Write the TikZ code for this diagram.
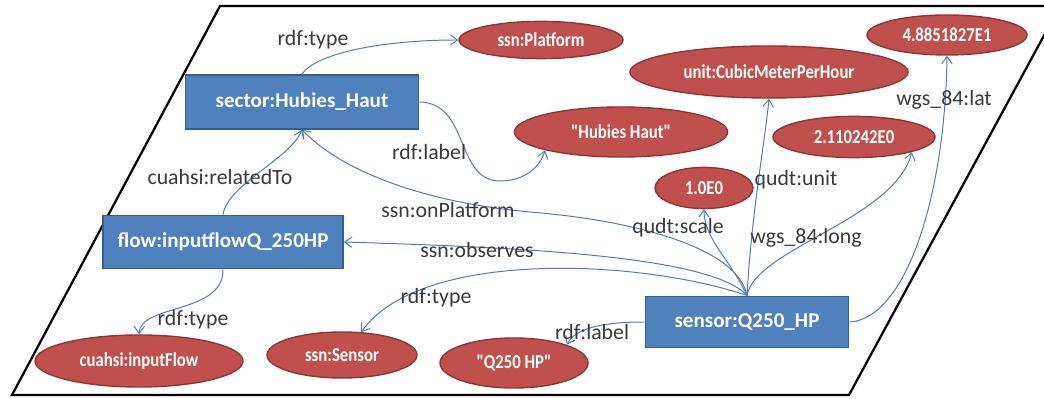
\documentclass[tikz,border=0pt]{standalone}
\usepackage{fontspec}
\setmainfont{Carlito}
\newfontfamily\litfont[FakeStretch=0.85]{Carlito}
\usetikzlibrary{shapes.geometric,arrows.meta}
\definecolor{resblue}{HTML}{4F81BD}
\definecolor{resline}{HTML}{385D8A}
\definecolor{litred}{HTML}{C0504D}
\definecolor{litline}{HTML}{8C3836}
\definecolor{edgeblue}{HTML}{4A7EBB}
\definecolor{notegray}{HTML}{3A3A3A}

\begin{document}
\begin{tikzpicture}[x=0.025cm, y=0.025cm,
  res/.style={rectangle, draw=resline, line width=1.2pt, fill=resblue,
              text=white, font=\fontsize{15}{18}\selectfont\bfseries, inner sep=2pt},
  lit/.style={ellipse, draw=litline, line width=1pt, fill=litred,
              text=white, font=\litfont\bfseries\fontsize{14}{16}\selectfont, inner sep=0pt},
  arrow/.style={-{Straight Barb[length=1.8mm,width=2.6mm]}, line width=0.7pt, color=edgeblue},
  note/.style={font=\fontsize{15.5}{18}\selectfont, text=notegray, inner sep=1pt}
]
  \clip (0,0) rectangle (1044,399);
  % plane of the graph
  \draw[line width=1.6pt] (12,4) -- (220,393) -- (1060,393) -- (849,4) -- cycle;

  % resources
  \node[res, minimum width=5.83cm, minimum height=1.35cm] (sector) at (302,297) {sector:Hubies\_Haut};
  \node[res, minimum width=6cm, minimum height=1.33cm] (flow) at (223,157) {flow:inputflowQ\_250HP};
  \node[res, minimum width=5.08cm, minimum height=1.28cm] (sensor) at (747,77) {sensor:Q250\_HP};

  % literals and classes
  \node[lit, minimum width=4.1cm, minimum height=0.93cm] (plat) at (541,359) {ssn:Platform};
  \node[lit, minimum width=6.95cm, minimum height=1.3cm] (unit) at (769,327) {unit:CubicMeterPerHour};
  \node[lit, minimum width=4cm, minimum height=1cm] (lat) at (947,364) {4.8851827E1};
  \node[lit, minimum width=5.33cm, minimum height=1.25cm] (hubies) at (621,267) {"Hubies Haut"};
  \node[lit, minimum width=4.05cm, minimum height=1.03cm] (long) at (854,262) {2.110242E0};
  \node[lit, minimum width=2.45cm, minimum height=1.03cm] (scale) at (704,211) {1.0E0};
  \node[lit, minimum width=5.2cm, minimum height=1.3cm] (inflow) at (139,38) {cuahsi:inputFlow};
  \node[lit, minimum width=3.75cm, minimum height=1.15cm] (sensorcls) at (342,44) {ssn:Sensor};
  \node[lit, minimum width=3.7cm, minimum height=1.25cm] (qlabel) at (514,36) {"Q250 HP"};

  % properties
  \draw[arrow] (sector.north) .. controls (315,345) and (380,359) .. (plat.west);
  \draw[arrow] (sector.east) .. controls (470,296) and (455,218) .. (500,218)
               .. controls (525,218) and (540,232) .. (hubies.south west);
  \draw[arrow] (flow.north) .. controls (228,215) and (290,240) .. (sector.south);
  \draw[arrow] (sensor.north) .. controls (738,150) and (640,178) .. (530,187)
               .. controls (430,196) and (345,225) .. (sector.south);
  \draw[arrow] (sensor.north) .. controls (710,145) and (500,152) .. (flow.east);
  \draw[arrow] (sensor.north) .. controls (640,140) and (420,150) .. (sensorcls.50);
  \draw[arrow] (sensor.west) .. controls (600,77) and (575,70) .. (qlabel.north east);
  \draw[arrow] (flow.south) .. controls (224,85) and (140,95) .. (inflow.north);
  \draw[arrow] (sensor.north) .. controls (730,140) and (704,160) .. (scale.south);
  \draw[arrow] (sensor.north) .. controls (752,190) and (764,250) .. (unit.south);
  \draw[arrow] (sensor.north) .. controls (755,150) and (895,180) .. (long.south east);
  \draw[arrow] (sensor.east) .. controls (905,80) and (945,200) .. (lat.south);

  \node[note] (t1) at (313,359) {rdf:type};
  \node[note] (t2) at (429,247) {rdf:label};
  \node[note] (t3) at (220,222) {cuahsi:relatedTo};
  \node[note] (t4) at (448,189) {ssn:onPlatform};
  \node[note] (t5) at (477,149) {ssn:observes};
  \node[note] (t6) at (436,101) {rdf:type};
  \node[note] (t7) at (592,67) {rdf:label};
  \node[note] (t8) at (193,79) {rdf:type};
  \node[note] (t9) at (678,171) {qudt:scale};
  \node[note] (t10) at (796,219) {qudt:unit};
  \node[note] (t11) at (806,161) {wgs\_84:long};
  \node[note] (t12) at (944,299) {wgs\_84:lat};
\end{tikzpicture}
\end{document}
